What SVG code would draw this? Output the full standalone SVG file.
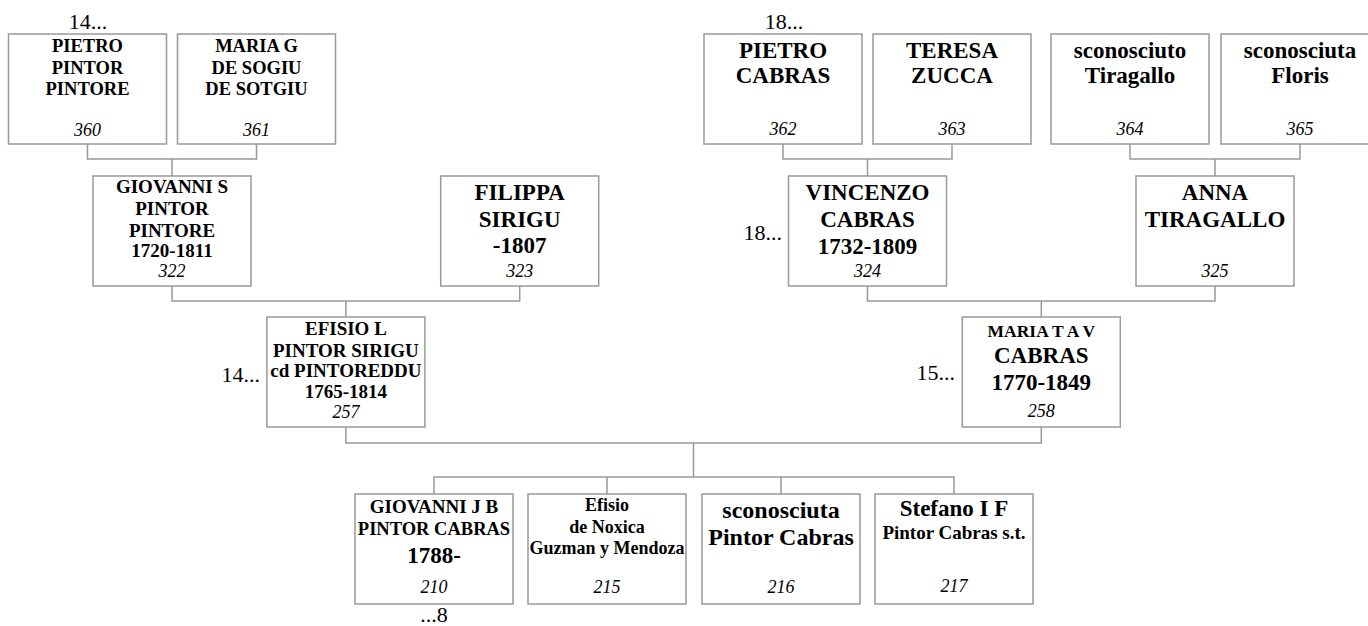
<svg xmlns="http://www.w3.org/2000/svg" width="1368" height="626" viewBox="0 0 1368 626" font-family="'Liberation Serif', 'DejaVu Serif', serif">
<style>
text{fill:#000;text-anchor:middle}
.b{font-weight:bold}
.n{font-style:italic;font-size:18px}
.s19{font-size:19px}
.s185{font-size:18.5px}
.s18{font-size:18px}
.s23{font-size:23px}
.lbl{font-size:22px}
.end{text-anchor:end}
rect{fill:#fff;stroke:#999;stroke-width:1.5}
.c path{fill:none;stroke:#999;stroke-width:1.5}
</style>
<rect x="0" y="0" width="1368" height="626" style="stroke:none;fill:#fff"/>
<g class="c" id="connectors">
<path d="M87.5 144V159H256.5V144M172 159V176"/>
<path d="M783 144V159H952V144M867.5 159V176"/>
<path d="M1130 144V159H1300V144M1215 159V176"/>
<path d="M172 286V301H519.7V286M345.9 301V317"/>
<path d="M867.5 286V301H1215V286M1041.3 301V317"/>
<path d="M345.9 427V443H1041.3V427M693.5 443V477"/>
<path d="M434 494V477H954V494M607 477V494M781 477V494"/>
</g>
<g id="n360"><rect x="8.5" y="34" width="158" height="110"/>
<text class="b s185" x="87.5" y="52">PIETRO</text><text class="b s185" x="87.5" y="73.5">PINTOR</text><text class="b s185" x="87.5" y="95">PINTORE</text><text class="n" x="87.5" y="136">360</text>
<text class="lbl" x="88" y="29">14...</text></g>
<g id="n361"><rect x="177.5" y="34" width="158" height="110"/>
<text class="b s185" x="256.5" y="52">MARIA G</text><text class="b s185" x="256.5" y="73.5">DE SOGIU</text><text class="b s185" x="256.5" y="95">DE SOTGIU</text><text class="n" x="256.5" y="136">361</text></g>
<g id="n362"><rect x="704" y="34" width="158" height="110"/>
<text class="b s23" x="783" y="58">PIETRO</text><text class="b s23" x="783" y="83">CABRAS</text><text class="n" x="783" y="135">362</text>
<text class="lbl" x="784" y="29">18...</text></g>
<g id="n363"><rect x="873" y="34" width="158" height="110"/>
<text class="b s23" x="952" y="58">TERESA</text><text class="b s23" x="952" y="83">ZUCCA</text><text class="n" x="952" y="135">363</text></g>
<g id="n364"><rect x="1051" y="34" width="158" height="110"/>
<text class="b s23" x="1130" y="58">sconosciuto</text><text class="b s23" x="1130" y="83">Tiragallo</text><text class="n" x="1130" y="135">364</text></g>
<g id="n365"><rect x="1221" y="34" width="158" height="110"/>
<text class="b s23" x="1300" y="58">sconosciuta</text><text class="b s23" x="1300" y="83">Floris</text><text class="n" x="1300" y="135">365</text></g>
<g id="n322"><rect x="93" y="176" width="158" height="110"/>
<text class="b s19" x="172" y="193">GIOVANNI S</text><text class="b s19" x="172" y="215">PINTOR</text><text class="b s19" x="172" y="236.5">PINTORE</text><text class="b s19" x="172" y="256.5">1720-1811</text><text class="n" x="172" y="276.5">322</text></g>
<g id="n323"><rect x="440.7" y="176" width="158" height="110"/>
<text class="b s23" x="519.7" y="200">FILIPPA</text><text class="b s23" x="519.7" y="226.5">SIRIGU</text><text class="b s23" x="519.7" y="253">-1807</text><text class="n" x="519.7" y="277">323</text></g>
<g id="n324"><rect x="788.5" y="176" width="158" height="110"/>
<text class="b s23" x="867.5" y="200">VINCENZO</text><text class="b s23" x="867.5" y="226.7">CABRAS</text><text class="b s23" x="867.5" y="254">1732-1809</text><text class="n" x="867.5" y="276.7">324</text>
<text class="lbl end" x="782" y="239.5">18...</text></g>
<g id="n325"><rect x="1136" y="176" width="158" height="110"/>
<text class="b s23" x="1215" y="200">ANNA</text><text class="b s23" x="1215" y="226.7">TIRAGALLO</text><text class="n" x="1215" y="276.7">325</text></g>
<g id="n257"><rect x="266.9" y="317" width="158" height="110"/>
<text class="b s19" x="345.9" y="335">EFISIO L</text><text class="b s19" x="345.9" y="356.7">PINTOR SIRIGU</text><text class="b s19" x="345.9" y="377.3">cd PINTOREDDU</text><text class="b s19" x="345.9" y="398.3">1765-1814</text><text class="n" x="345.9" y="418.3">257</text>
<text class="lbl end" x="260" y="381.7">14...</text></g>
<g id="n258"><rect x="962.3" y="317" width="158" height="110"/>
<text class="b" style="font-size:17.5px" x="1041.3" y="336.7">MARIA T A V</text><text class="b s23" x="1041.3" y="362.7">CABRAS</text><text class="b s23" x="1041.3" y="390">1770-1849</text><text class="n" x="1041.3" y="417.3">258</text>
<text class="lbl end" x="955" y="380">15...</text></g>
<g id="n210"><rect x="355" y="494" width="158" height="110"/>
<text class="b s19" x="434" y="513">GIOVANNI J B</text><text class="b s185" x="434" y="535">PINTOR CABRAS</text><text class="b s23" x="434" y="563">1788-</text><text class="n" x="434" y="593">210</text>
<text class="lbl" x="434" y="622">...8</text></g>
<g id="n215"><rect x="528" y="494" width="158" height="110"/>
<text class="b s18" x="607" y="511">Efisio</text><text class="b s18" x="607" y="532.5">de Noxica</text><text class="b s18" x="607" y="554">Guzman y Mendoza</text><text class="n" x="607" y="593">215</text></g>
<g id="n216"><rect x="702" y="494" width="158" height="110"/>
<text class="b" style="font-size:24px" x="781" y="517.5">sconosciuta</text><text class="b" style="font-size:24px" x="781" y="544.5">Pintor Cabras</text><text class="n" x="781" y="593">216</text></g>
<g id="n217"><rect x="875" y="494" width="158" height="110"/>
<text class="b s23" x="954" y="516">Stefano I F</text><text class="b s19" x="954" y="539">Pintor Cabras s.t.</text><text class="n" x="954" y="592">217</text></g>
</svg>
